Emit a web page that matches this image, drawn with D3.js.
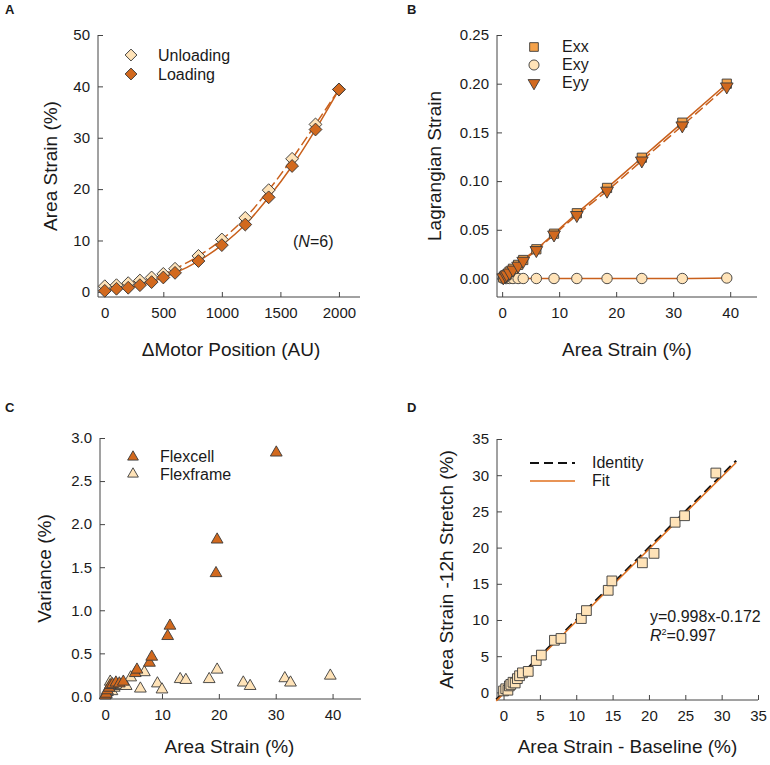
<!DOCTYPE html>
<html lang="en">
<head>
  <meta charset="UTF-8">
  <title>Strain calibration</title>
  <script src="https://d3js.org/d3.v7.min.js"></script>
  <style type="text/css">
    body { margin: 0; background: #fff; }
    svg text { font-family: "Liberation Sans", Arial, sans-serif; fill: #1a1a1a; }
    .axis path, .axis line { stroke: #444; stroke-width: 1; }
    .axis text { font-size: 15px; }
    .atitle { font-size: 19px; }
    .leg { font-size: 16px; }
    .plabel { font-size: 13px; font-weight: bold; }
  </style>
</head>
<body>
<script>

  // A: motor position vs area strain
  var motorPos = [0, 100, 200, 300, 400, 500, 600, 800, 1000, 1200, 1400, 1600, 1800, 2000];
  var unloading = [1.1, 1.3, 1.7, 2.2, 2.8, 3.5, 4.5, 7.0, 10.2, 14.4, 19.8, 25.9, 32.6, 39.4];
  var loading = [0.2, 0.6, 0.8, 1.3, 1.9, 2.8, 3.7, 6.0, 9.1, 13.1, 18.4, 24.5, 31.6, 39.4];

  // B: Lagrangian strain vs area strain
  var areaStrainB = [0.2, 0.6, 0.8, 1.3, 1.9, 2.8, 3.7, 6.0, 9.1, 13.1, 18.4, 24.5, 31.6, 39.4];
  var exx = [0.001, 0.003, 0.004, 0.007, 0.010, 0.014, 0.019, 0.030, 0.046, 0.067, 0.093, 0.124, 0.160, 0.200];
  var exy = [0.000, 0.000, 0.000, 0.000, 0.000, 0.000, 0.000, 0.000, 0.000, 0.000, 0.000, 0.000, 0.000, 0.0005];
  var eyy = [0.001, 0.003, 0.004, 0.006, 0.009, 0.013, 0.018, 0.029, 0.045, 0.065, 0.090, 0.121, 0.157, 0.197];

  // C: variance vs area strain
  var flexcellX = [0.0, 0.2, 0.4, 0.7, 0.9, 1.3, 1.9, 2.5, 3.2, 5.3, 5.6, 7.8, 8.2, 11.0, 11.4, 19.5, 19.7, 30.1];
  var flexcellY = [0.01, 0.03, 0.07, 0.10, 0.13, 0.14, 0.16, 0.15, 0.17, 0.27, 0.31, 0.39, 0.46, 0.70, 0.82, 1.43, 1.82, 2.83];
  var flexframeX = [0.2, 0.4, 0.7, 0.9, 1.2, 1.6, 2.1, 2.8, 3.7, 4.5, 6.2, 6.9, 9.2, 10.0, 13.2, 14.2, 18.3, 19.7, 24.3, 25.5, 31.6, 32.6, 39.6];
  var flexframeY = [0.02, 0.05, 0.08, 0.17, 0.06, 0.10, 0.12, 0.13, 0.12, 0.22, 0.09, 0.28, 0.15, 0.08, 0.20, 0.19, 0.20, 0.31, 0.16, 0.12, 0.21, 0.16, 0.24];

  // D: 12h stretch vs baseline
  var baselineX = [0.0, 0.3, 0.6, 0.8, 1.0, 1.3, 1.6, 1.9, 2.2, 2.6, 3.4, 4.5, 5.2, 7.0, 7.9, 10.7, 11.4, 14.4, 14.9, 19.1, 20.7, 23.6, 24.9, 29.2];
  var stretchY = [0.2, 0.5, 0.3, 0.9, 1.1, 1.4, 1.3, 1.9, 2.3, 2.7, 2.9, 4.4, 5.15, 7.2, 7.45, 10.2, 11.3, 14.1, 15.4, 17.9, 19.2, 23.5, 24.4, 30.3];
  var lineX = [-1, 32];
  var fitSlope = 0.998, fitIntercept = -0.172;

  var dark = "#d2691e", lineCol = "#c9601c", cream = "#ffe3b8", mid = "#f5a24a";

  var svg = d3.select("body").append("svg")
    .attr("width", 770)
    .attr("height", 765);

  function zip(xs, ys) { return xs.map(function(x, i) { return [x, ys[i]]; }); }

  function panel(o) {
    var x = d3.scaleLinear().domain(o.xd).range(o.xr);
    var y = d3.scaleLinear().domain(o.yd).range(o.yr);
    var g = svg.append("g");

    g.append("g").attr("class", "axis")
      .attr("transform", "translate(0," + o.yr[0] + ")")
      .call(d3.axisBottom(x).tickValues(o.xt).tickSizeInner(-5).tickSizeOuter(0).tickPadding(10)
        .tickFormat(o.xf || d3.format("d")));
    g.append("g").attr("class", "axis")
      .attr("transform", "translate(" + o.xr[0] + ",0)")
      .call(d3.axisLeft(y).tickValues(o.yt).tickSizeInner(-5).tickSizeOuter(0).tickPadding(8)
        .tickFormat(o.yf || d3.format("d")));
    // axis lines run the full plot box
    g.selectAll(".axis .domain").attr("d", function() {
      return this.parentNode.getAttribute("transform").indexOf("translate(0") === 0
        ? "M" + o.xr[0] + ",0H" + o.xr[1] : "M0," + o.yr[0] + "V" + o.yr[1];
    });

    g.append("text").attr("class", "plabel").attr("x", o.lab[0]).attr("y", o.lab[1]).text(o.name);
    g.append("text").attr("class", "atitle").attr("text-anchor", "middle")
      .attr("x", (o.xr[0] + o.xr[1]) / 2 + (o.xtOff || 0)).attr("y", o.xtY).text(o.xTitle);
    g.append("text").attr("class", "atitle").attr("text-anchor", "middle")
      .attr("transform", "translate(" + o.ytX + "," + (o.yr[0] + o.yr[1]) / 2 + ") rotate(-90)")
      .text(o.yTitle);
    return {g: g, x: x, y: y};
  }

  function line(p, pts, dash) {
    p.g.append("path").datum(pts)
      .attr("fill", "none").attr("stroke", lineCol).attr("stroke-width", 1.5)
      .attr("stroke-dasharray", dash || null)
      .attr("d", d3.line().x(function(d) { return p.x(d[0]); }).y(function(d) { return p.y(d[1]); })
        .curve(d3.curveMonotoneX));
  }

  function symbolPath(type, size) {
    var t = type === "circle" ? d3.symbolCircle :
      (type === "diamond" || type === "square") ? d3.symbolSquare : d3.symbolTriangle;
    return d3.symbol().type(t).size(size)();
  }

  function place(cx, cy, type) {
    var t = "translate(" + cx + "," + cy + ")";
    if (type === "diamond") t += " rotate(45)";
    if (type === "tridown") t += " rotate(180)";
    return t;
  }

  function marks(p, pts, type, size, fill) {
    p.g.append("g").selectAll("path").data(pts).enter().append("path")
      .attr("transform", function(d) { return place(p.x(d[0]), p.y(d[1]), type); })
      .attr("d", symbolPath(type, size))
      .attr("fill", fill).attr("stroke", "#3a3a3a").attr("stroke-width", 0.9);
  }

  function legendMark(g, cx, cy, type, size, fill) {
    g.append("path").attr("transform", place(cx, cy, type))
      .attr("d", symbolPath(type, size))
      .attr("fill", fill).attr("stroke", "#3a3a3a").attr("stroke-width", 0.9);
  }

  // ---- Panel A
  var pA = panel({
    name: "A", lab: [5, 14],
    xd: [-58, 2180], xr: [98, 360], yd: [-1, 50], yr: [297, 35],
    xt: [0, 500, 1000, 1500, 2000], yt: [0, 10, 20, 30, 40, 50],
    xTitle: "\u0394Motor Position (AU)", xtY: 356, xtOff: 2,
    yTitle: "Area Strain (%)", ytX: 57
  });
  line(pA, zip(motorPos, unloading), "10,4");
  line(pA, zip(motorPos, loading));
  marks(pA, zip(motorPos, unloading), "diamond", 82, cream);
  marks(pA, zip(motorPos, loading), "diamond", 82, dark);
  legendMark(pA.g, 131, 55, "diamond", 70, cream);
  legendMark(pA.g, 131, 74, "diamond", 70, dark);
  pA.g.append("text").attr("class", "leg").attr("x", 158).attr("y", 61).text("Unloading");
  pA.g.append("text").attr("class", "leg").attr("x", 158).attr("y", 80).text("Loading");
  var nt = pA.g.append("text").attr("class", "leg").attr("x", 293).attr("y", 247);
  nt.append("tspan").text("(");
  nt.append("tspan").attr("font-style", "italic").text("N");
  nt.append("tspan").text("=6)");

  // ---- Panel B
  var pB = panel({
    name: "B", lab: [407, 14],
    xd: [-0.9, 44.7], xr: [497, 757], yd: [-0.019, 0.25], yr: [297, 35],
    xt: [0, 10, 20, 30, 40], yt: [0, 0.05, 0.10, 0.15, 0.20, 0.25], yf: d3.format(".2f"),
    xTitle: "Area Strain (%)", xtY: 356, xtOff: 0,
    yTitle: "Lagrangian Strain", ytX: 441
  });
  line(pB, zip(areaStrainB, exy));
  line(pB, zip(areaStrainB, eyy), "10,4");
  line(pB, zip(areaStrainB, exx));
  marks(pB, zip(areaStrainB, exy), "circle", 85, cream);
  marks(pB, zip(areaStrainB, exx), "square", 85, mid);
  marks(pB, zip(areaStrainB, eyy), "tridown", 70, dark);
  legendMark(pB.g, 534, 47, "square", 75, mid);
  legendMark(pB.g, 534, 65, "circle", 80, cream);
  legendMark(pB.g, 534, 83, "tridown", 60, dark);
  pB.g.append("text").attr("class", "leg").attr("x", 562).attr("y", 52).text("Exx");
  pB.g.append("text").attr("class", "leg").attr("x", 562).attr("y", 70).text("Exy");
  pB.g.append("text").attr("class", "leg").attr("x", 562).attr("y", 88).text("Eyy");

  // ---- Panel C
  var pC = panel({
    name: "C", lab: [5, 412],
    xd: [-0.9, 45], xr: [100, 361], yd: [-0.03, 3.0], yr: [699, 438],
    xt: [0, 10, 20, 30, 40], yt: [0, 0.5, 1.0, 1.5, 2.0, 2.5, 3.0], yf: d3.format(".1f"),
    xTitle: "Area Strain (%)", xtY: 753, xtOff: -1,
    yTitle: "Variance (%)", ytX: 51
  });
  marks(pC, zip(flexframeX, flexframeY), "tri", 60, cream);
  marks(pC, zip(flexcellX, flexcellY), "tri", 60, dark);
  legendMark(pC.g, 133, 457, "tri", 50, dark);
  legendMark(pC.g, 133, 474, "tri", 50, cream);
  pC.g.append("text").attr("class", "leg").attr("x", 160).attr("y", 462).text("Flexcell");
  pC.g.append("text").attr("class", "leg").attr("x", 160).attr("y", 480).text("Flexframe");

  // ---- Panel D
  var pD = panel({
    name: "D", lab: [407, 412],
    xd: [-0.9, 35], xr: [497, 758], yd: [-1.05, 35], yr: [700, 439],
    xt: [0, 5, 10, 15, 20, 25, 30, 35], yt: [0, 5, 10, 15, 20, 25, 30, 35],
    xTitle: "Area Strain - Baseline (%)", xtY: 753, xtOff: 0,
    yTitle: "Area Strain -12h Stretch (%)", ytX: 453
  });
  var lineGen = d3.line().x(function(d) { return pD.x(d[0]); }).y(function(d) { return pD.y(d[1]); });
  pD.g.append("path").datum(lineX.map(function(v) { return [v, v]; }))
    .attr("fill", "none").attr("stroke", "#111").attr("stroke-width", 2.2).attr("stroke-dasharray", "9,5")
    .attr("d", lineGen);
  pD.g.append("path").datum(lineX.map(function(v) { return [v, fitSlope * v + fitIntercept]; }))
    .attr("fill", "none").attr("stroke", "#e0701e").attr("stroke-width", 1.5)
    .attr("d", lineGen);
  marks(pD, zip(baselineX, stretchY), "square", 95, cream);
  pD.g.append("line").attr("x1", 530).attr("x2", 575).attr("y1", 463).attr("y2", 463)
    .attr("stroke", "#111").attr("stroke-width", 2.2).attr("stroke-dasharray", "9,5");
  pD.g.append("line").attr("x1", 530).attr("x2", 575).attr("y1", 481).attr("y2", 481)
    .attr("stroke", "#e0701e").attr("stroke-width", 1.5);
  pD.g.append("text").attr("class", "leg").attr("x", 592).attr("y", 468).text("Identity");
  pD.g.append("text").attr("class", "leg").attr("x", 592).attr("y", 486).text("Fit");
  pD.g.append("text").attr("class", "leg").attr("x", 650).attr("y", 622).text("y=0.998x-0.172");
  var r2 = pD.g.append("text").attr("class", "leg").attr("x", 650).attr("y", 641);
  r2.append("tspan").attr("font-style", "italic").text("R");
  r2.append("tspan").attr("font-size", "9px").attr("dy", -6).text("2");
  r2.append("tspan").attr("dy", 6).text("=0.997");

</script>
</body>
</html>
